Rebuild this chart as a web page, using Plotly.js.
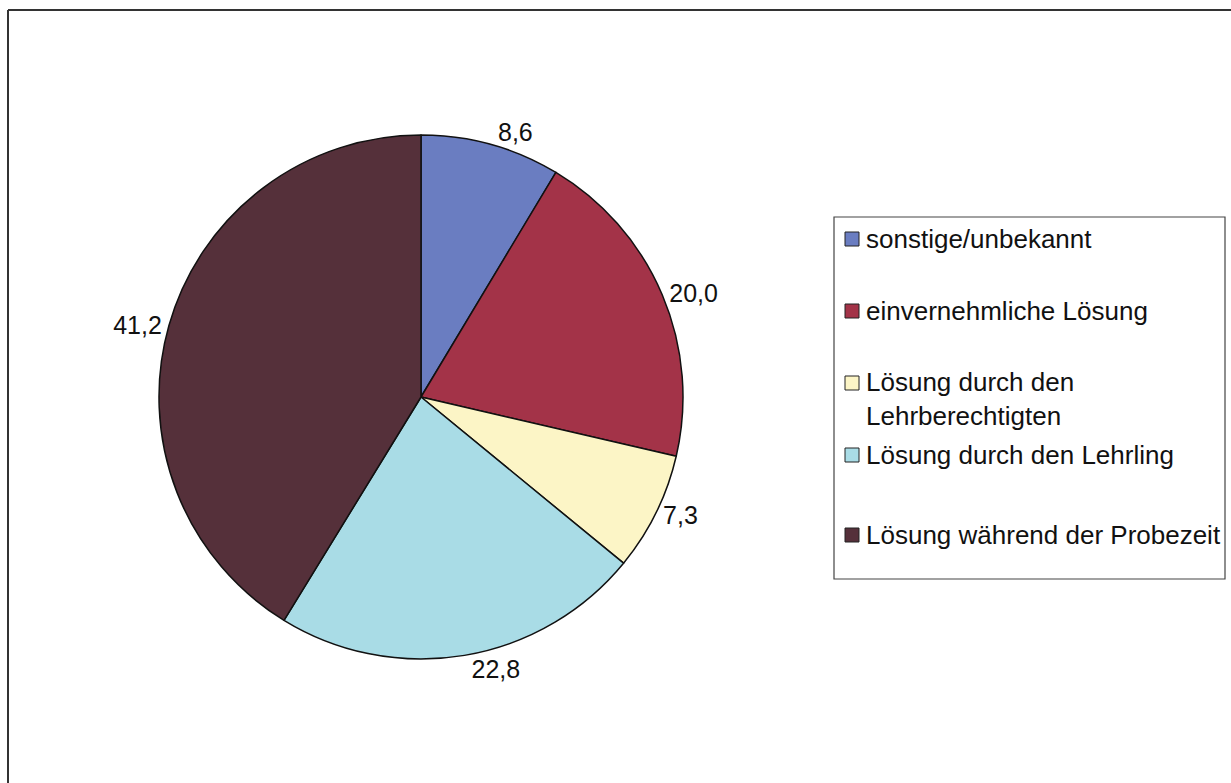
<!DOCTYPE html>
<html>
<head>
<meta charset="utf-8">
<script src="https://cdn.plot.ly/plotly-3.0.1.min.js"></script>
<style>
html,body{margin:0;padding:0;background:#fff;}
#chart{width:1231px;height:783px;}
</style>
</head>
<body>
<div id="chart"></div>
<script>
// Data
const categories = [
  "sonstige/unbekannt",
  "einvernehmliche Lösung",
  "Lösung durch den Lehrberechtigten",
  "Lösung durch den Lehrling",
  "Lösung während der Probezeit"
];
const legendLabels = [
  "sonstige/unbekannt",
  "einvernehmliche Lösung",
  "Lösung durch den<br>Lehrberechtigten",
  "Lösung durch den Lehrling",
  "Lösung während der Probezeit"
];
const values = [8.6, 20.0, 7.3, 22.8, 41.2];
const colors = ["#6a7dc1", "#a33348", "#fcf5c6", "#a9dce6", "#55303a"];

const W = 1231, H = 783;
const px = x => x / W;
const py = y => 1 - y / H;
const FONT = "Liberation Sans, Arial, sans-serif";

// pie geometry (pixels)
const cx = 421, cy = 397, r = 262;

const trace = {
  type: "pie",
  labels: categories,
  values: values,
  sort: false,
  direction: "clockwise",
  rotation: 0,
  text: values.map(v => v.toFixed(1).replace(".", ",")),
  textinfo: "text",
  textposition: "outside",
  textfont: {family: FONT, size: 25, color: "#111"},
  marker: {colors: colors, line: {color: "#111", width: 1.5}},
  showlegend: false,
  hoverinfo: "label+value",
  domain: {x: [px(cx - r), px(cx + r)], y: [py(cy + r), py(cy - r)]}
};

// manual legend
const legBox = {x0: 834, y0: 217, x1: 1225, y1: 579};
const itemY = [239, 311, 383, 455, 535];
const textY = [239, 311, 399, 455, 535];
const shapes = [
  // outer frame (top and left visible)
  {type: "line", xref: "paper", yref: "paper", x0: px(8), x1: px(1231), y0: py(10), y1: py(10), line: {color: "#333", width: 2}},
  {type: "line", xref: "paper", yref: "paper", x0: px(8), x1: px(8), y0: py(10), y1: py(783), line: {color: "#333", width: 2}},
  // legend box
  {type: "rect", xref: "paper", yref: "paper", x0: px(legBox.x0), x1: px(legBox.x1), y0: py(legBox.y1), y1: py(legBox.y0), line: {color: "#444", width: 1.2}, fillcolor: "rgba(0,0,0,0)"}
];
const annotations = [];
categories.forEach((c, i) => {
  shapes.push({type: "rect", xref: "paper", yref: "paper",
    x0: px(845), x1: px(859), y0: py(itemY[i] + 7), y1: py(itemY[i] - 7),
    fillcolor: colors[i], line: {color: "#222", width: 1}});
  annotations.push({xref: "paper", yref: "paper", x: px(864), y: py(textY[i]),
    xanchor: "left", yanchor: "middle", align: "left", showarrow: false,
    text: legendLabels[i],
    font: {family: FONT, size: 26, color: "#111"}});
});

const layout = {
  width: W, height: H,
  margin: {l: 0, r: 0, t: 0, b: 0},
  paper_bgcolor: "#fff",
  plot_bgcolor: "#fff",
  shapes: shapes,
  annotations: annotations,
  showlegend: false
};

Plotly.newPlot("chart", [trace], layout, {displayModeBar: false, staticPlot: true});
</script>
</body>
</html>
